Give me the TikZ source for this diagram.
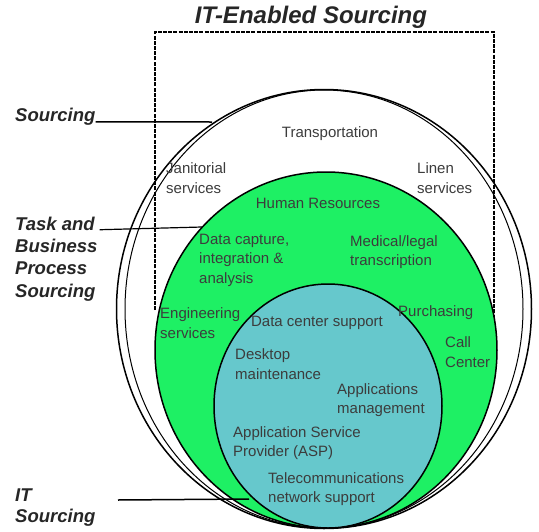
\documentclass[tikz,border=0pt]{standalone}
\usepackage{fontspec}
\setmainfont{Liberation Sans}
\usepackage{tikz}
\usepackage{xcolor}
\usetikzlibrary{positioning}
\definecolor{bpsgreen}{RGB}{30,240,100}
\definecolor{itblue}{RGB}{102,200,204}
\definecolor{txtgray}{RGB}{60,60,60}

\begin{document}
\begin{tikzpicture}[x=1pt,y=-1pt]
\tikzstyle{every node}+=[inner sep=0pt]
\tikzstyle{itemtext}=[font=\fontsize{15}{19.5}\selectfont, text=txtgray, align=left]
\tikzstyle{sidelabel}=[font=\fontsize{18.5}{22.3}\selectfont\bfseries\itshape, text=black!85, align=left, anchor=west]
\tikzstyle{rim}=[black, line width=1.5pt]
\useasboundingbox (0,0) rectangle (539,531);
% the three sourcing circles
\draw [rim, fill=white] (324,309) ellipse (207.5 and 219.5);
\draw [black, line width=1pt] (324,309) ellipse (199 and 219);
\draw [black, line width=1.6pt, dash pattern=on 4pt off 1.2pt] (155,310) -- (155,32) -- (494,32) -- (494,360);
\draw [rim, fill=bpsgreen] (326,350) ellipse (171 and 178);
\draw [rim, fill=itblue] (328,406) ellipse (114 and 122);
% title
\node (title) at (311,17) [font=\fontsize{24}{26}\selectfont\bfseries\itshape, text=black!85] {IT-Enabled Sourcing};
% outer ring
\node (transport) at (330,134) [itemtext] {Transportation};
\node (janitor) at (166,178) [itemtext, anchor=west] {Janitorial\\services};
\node (linen) at (417,178) [itemtext, anchor=west] {Linen\\services};
% task and business process ring
\node (hr) at (318,203) [itemtext] {Human Resources};
\node (datacap) at (199,260) [itemtext, anchor=west] {Data capture,\\integration \&\\analysis};
\node (medical) at (350,252) [itemtext, anchor=west] {Medical/legal\\transcription};
\node (eng) at (160,323) [itemtext, anchor=west] {Engineering\\services};
\node (purch) at (398,313) [itemtext, anchor=west] {Purchasing};
\node (callc) at (445,352) [itemtext, anchor=west] {Call\\Center};
% IT ring
\node (dcs) at (317,323) [itemtext] {Data center support};
\node (desktop) at (235,364) [itemtext, anchor=west] {Desktop\\maintenance};
\node (appmgmt) at (337,400) [itemtext, anchor=west] {Applications\\management};
\node (asp) at (233,443) [itemtext, anchor=west] {Application Service\\Provider (ASP)};
\node (telecom) at (268,489) [itemtext, anchor=west] {Telecommunications\\network support};
% side labels
\node (lblsrc) at (15,117) [sidelabel] {Sourcing};
\node (lbltask) at (15,259) [sidelabel] {Task and\\Business\\Process\\Sourcing};
\node (lblit) at (15,508) [sidelabel, font=\fontsize{18.5}{21}\selectfont\bfseries\itshape] {IT\\Sourcing};
\coordinate (srcpt) at (212,122);
\coordinate (taskpt) at (202,227);
\coordinate (itfrom) at (118,500);
\coordinate (itpt) at (249,499);
\draw [black, line width=1.5pt] (lblsrc.base east) -- (srcpt);
\draw [black, line width=1.2pt] ([xshift=2pt,yshift=-13pt]lbltask.north east) -- (taskpt);
\draw [black, line width=1.5pt] (itfrom) -- (itpt);
\end{tikzpicture}
\end{document}
